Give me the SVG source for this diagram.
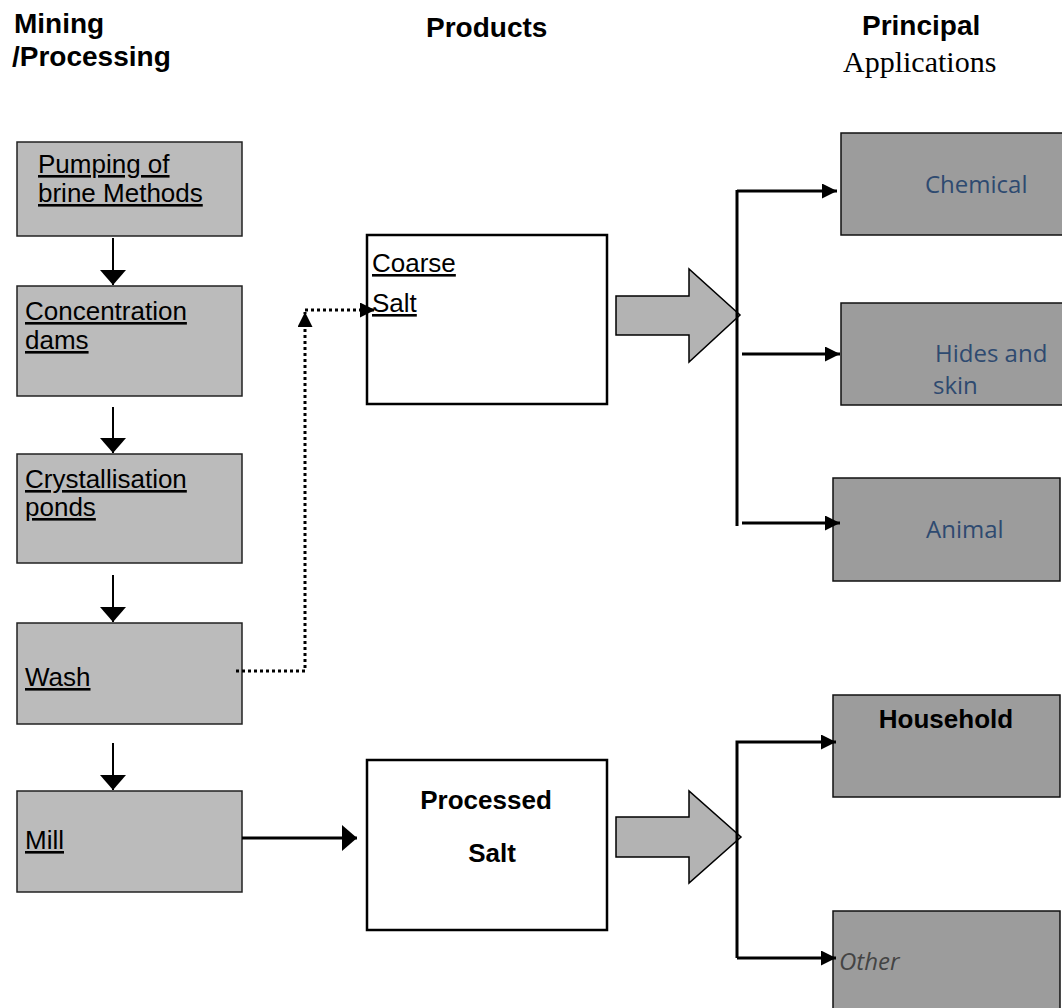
<svg xmlns="http://www.w3.org/2000/svg" width="1062" height="1008" viewBox="0 0 1062 1008">
<style>
.hdr{font-family:"Liberation Sans",Arial,sans-serif;font-weight:bold;font-size:28px;fill:#000}
.serif{font-family:"Liberation Serif","Times New Roman",serif;font-size:30px;fill:#000}
.body{font-family:"Liberation Sans",Arial,sans-serif;font-size:26px;fill:#000;text-decoration:underline}
.bold{font-family:"Liberation Sans",Arial,sans-serif;font-weight:bold;font-size:26px;fill:#000}
.app{font-family:"Open Sans","Noto Sans",sans-serif;font-size:24px;fill:#2E4A70}
.other{font-family:"Open Sans","Noto Sans",sans-serif;font-style:italic;font-size:24px;fill:#444}
.proc{fill:#BBBBBB;stroke:#222;stroke-width:1.5}
.prod{fill:#fff;stroke:#000;stroke-width:2.5}
.appbox{fill:#9C9C9C;stroke:#111;stroke-width:1.5}
.block{fill:#B3B3B3;stroke:#000;stroke-width:1.5}
.ln{fill:none;stroke:#000;stroke-width:2}
.ln3{fill:none;stroke:#000;stroke-width:3}
.dot{fill:none;stroke:#000;stroke-width:3;stroke-dasharray:3 3}
</style>
<defs>
<marker id="big" markerUnits="userSpaceOnUse" markerWidth="16" markerHeight="26" refX="15" refY="13" orient="auto">
<path d="M0,0 L15,13 L0,26 z" fill="#000"/>
</marker>
<marker id="sm" markerUnits="userSpaceOnUse" markerWidth="16" markerHeight="15" refX="15" refY="7.5" orient="auto">
<path d="M0,0 L15,7.5 L0,15 z" fill="#000"/>
</marker>
</defs>

<g id="headers">
<text class="hdr" x="14" y="33">Mining</text>
<text class="hdr" x="12" y="66">/Processing</text>
<text class="hdr" x="426" y="37">Products</text>
<text class="hdr" x="862" y="35">Principal</text>
<text class="serif" x="843" y="72">Applications</text>
</g>

<g id="pumping">
<rect class="proc" x="17" y="142" width="225" height="94"/>
<text class="body" x="38" y="173">Pumping of</text>
<text class="body" x="38" y="202">brine Methods</text>
</g>
<g id="concentration">
<rect class="proc" x="17" y="286" width="225" height="110"/>
<text class="body" x="25" y="320">Concentration</text>
<text class="body" x="25" y="349">dams</text>
</g>
<g id="crystallisation">
<rect class="proc" x="17" y="454" width="225" height="109"/>
<text class="body" x="25" y="488">Crystallisation</text>
<text class="body" x="25" y="516">ponds</text>
</g>
<g id="wash">
<rect class="proc" x="17" y="623" width="225" height="101"/>
<text class="body" x="25" y="686">Wash</text>
</g>
<g id="mill">
<rect class="proc" x="17" y="791" width="225" height="101"/>
<text class="body" x="25" y="849">Mill</text>
</g>

<g id="coarse-salt">
<rect class="prod" x="367" y="235" width="240" height="169"/>
<text class="body" x="372" y="272">Coarse</text>
<text class="body" x="372" y="312">Salt</text>
</g>
<g id="processed-salt">
<rect class="prod" x="367" y="760" width="240" height="170"/>
<text class="bold" x="486" y="809" text-anchor="middle">Processed</text>
<text class="bold" x="492" y="862" text-anchor="middle">Salt</text>
</g>

<g id="block-arrows">
<polygon class="block" points="616,296 689,296 689,269 740,315 689,362 689,335 616,335"/>
<polygon class="block" points="616,817 689,817 689,791 741,837 689,883 689,857 616,857"/>
</g>

<g id="chemical">
<rect class="appbox" x="841" y="133" width="222" height="102"/>
<text class="app" x="925" y="193">Chemical</text>
</g>
<g id="hides">
<rect class="appbox" x="841" y="303" width="222" height="102"/>
<text class="app" x="935" y="362">Hides and</text>
<text class="app" x="933" y="394">skin</text>
</g>
<g id="animal">
<rect class="appbox" x="833" y="478" width="227" height="103"/>
<text class="app" x="926" y="538">Animal</text>
</g>
<g id="household">
<rect class="appbox" x="833" y="695" width="227" height="102"/>
<text class="bold" x="946" y="728" text-anchor="middle">Household</text>
</g>
<g id="other">
<rect class="appbox" x="833" y="911" width="227" height="110"/>
<text class="other" x="839" y="970">Other</text>
</g>

<g id="connectors">
<line class="ln" x1="113" y1="238" x2="113" y2="285" marker-end="url(#big)"/>
<line class="ln" x1="113" y1="407" x2="113" y2="453" marker-end="url(#big)"/>
<line class="ln" x1="113" y1="575" x2="113" y2="622" marker-end="url(#big)"/>
<line class="ln" x1="113" y1="743" x2="113" y2="790" marker-end="url(#big)"/>
<line class="ln3" x1="242" y1="838" x2="357" y2="838" marker-end="url(#big)"/>
<polyline class="dot" points="236,671 305,671 305,312" marker-end="url(#sm)"/>
<line class="dot" x1="305" y1="310" x2="375" y2="310" marker-end="url(#sm)"/>
<line class="ln3" x1="737" y1="190" x2="737" y2="526"/>
<line class="ln3" x1="737" y1="191" x2="837" y2="191" marker-end="url(#sm)"/>
<line class="ln3" x1="742" y1="354" x2="840" y2="354" marker-end="url(#sm)"/>
<line class="ln3" x1="742" y1="523" x2="840" y2="523" marker-end="url(#sm)"/>
<polyline class="ln3" points="737,958 737,742 836,742" marker-end="url(#sm)"/>
<line class="ln3" x1="737" y1="958" x2="836" y2="958" marker-end="url(#sm)"/>
</g>
</svg>
